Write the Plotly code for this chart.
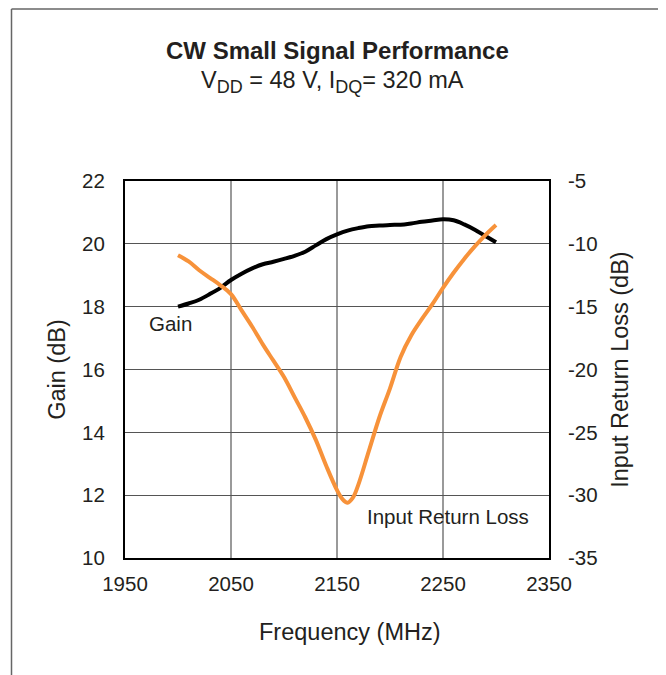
import plotly.graph_objects as go

freq = [2000, 2010, 2020, 2030, 2040, 2050, 2060, 2070, 2080, 2090, 2100,
        2110, 2120, 2130, 2140, 2150, 2160, 2170, 2180, 2190, 2200,
        2210, 2220, 2230, 2240, 2250, 2260, 2270, 2280, 2290, 2300]
gain = [18.0, 18.1, 18.22, 18.4, 18.6, 18.85, 19.05, 19.22, 19.35, 19.43, 19.52,
        19.62, 19.75, 19.95, 20.15, 20.3, 20.42, 20.5, 20.56, 20.58, 20.6,
        20.61, 20.65, 20.7, 20.74, 20.78, 20.75, 20.62, 20.45, 20.25, 20.05]

irl_freq = [2000, 2010, 2020, 2030, 2040, 2050, 2060, 2070, 2080, 2090, 2100,
            2110, 2120, 2130, 2140, 2150, 2155, 2160, 2165, 2170, 2180, 2190, 2200,
            2210, 2220, 2230, 2240, 2250, 2260, 2270, 2280, 2290, 2300]
irl = [-10.9, -11.4, -12.1, -12.7, -13.3, -14.0, -15.3, -16.6, -18.0, -19.3, -20.6,
       -22.2, -23.8, -25.6, -27.7, -29.6, -30.3, -30.6, -30.2, -29.2, -26.5, -23.8, -21.5,
       -19.0, -17.3, -16.0, -14.8, -13.5, -12.3, -11.2, -10.2, -9.3, -8.5]

x_ticks = [1950, 2050, 2150, 2250, 2350]
gain_ticks = [10, 12, 14, 16, 18, 20, 22]
irl_ticks = [-35, -30, -25, -20, -15, -10, -5]

FONT = "Liberation Sans, Arial, sans-serif"
TXT = "#231F20"

# figure is placed 8px into the page by the body margin
W, H = 658, 667
L, R, T, B = 117, 117, 173, 117
PW, PH = W - L - R, H - T - B


def px_x(sx):
    return (sx - 8 - L) / PW


def px_y(sy):
    return (H - B - (sy - 8)) / PH


fig = go.Figure()
fig.add_trace(go.Scatter(x=freq, y=gain, mode="lines", yaxis="y",
                         line=dict(color="black", width=4, shape="spline"),
                         showlegend=False))
fig.add_trace(go.Scatter(x=irl_freq, y=irl, mode="lines", yaxis="y2",
                         line=dict(color="#F7923A", width=4, shape="spline"),
                         showlegend=False))

fig.update_layout(
    width=W, height=H,
    margin=dict(l=L, r=R, t=T, b=B),
    paper_bgcolor="white", plot_bgcolor="white",
    font=dict(family=FONT, color=TXT, size=20),
    xaxis=dict(range=[1950, 2350], tickvals=x_ticks, ticktext=[str(v) for v in x_ticks],
               showgrid=True, gridcolor="#9a9a9a", gridwidth=1.5,
               showline=True, linecolor="black", linewidth=2, mirror=True,
               ticks="", ticklabelstandoff=6, tickfont=dict(size=20.5),
               zeroline=False),
    yaxis=dict(range=[10, 22], tickvals=gain_ticks, ticktext=[str(v) for v in gain_ticks],
               showgrid=True, gridcolor="#555555", gridwidth=1.3,
               showline=True, linecolor="black", linewidth=2, mirror=True,
               ticks="", ticklabelstandoff=14, tickfont=dict(size=20.5),
               title=dict(text="Gain (dB)", font=dict(size=23.5), standoff=10),
               zeroline=False),
    yaxis2=dict(range=[-35, -5], tickvals=irl_ticks, ticktext=[str(v) for v in irl_ticks],
                overlaying="y", side="right",
                showgrid=False, ticks="", ticklabelstandoff=18, tickfont=dict(size=20.5),
                title=dict(text="Input Return Loss (dB)", font=dict(size=23.5), standoff=14),
                zeroline=False, showline=False),
)

fig.add_annotation(text="<b>CW Small Signal Performance</b>", xref="paper", yref="paper",
                   x=0.5, y=px_y(50), showarrow=False, font=dict(size=24, color=TXT),
                   xanchor="center", yanchor="middle")
fig.add_annotation(text="V<sub><span style='font-size:18px'>DD</span></sub> = 48 V, "
                        "I<sub><span style='font-size:18px'>DQ</span></sub>= 320 mA",
                   xref="paper", yref="paper",
                   x=px_x(332), y=px_y(82), showarrow=False, font=dict(size=23.5, color=TXT),
                   xanchor="center", yanchor="middle")
fig.add_annotation(text="Frequency (MHz)", xref="paper", yref="paper",
                   x=px_x(350), y=px_y(632), showarrow=False, font=dict(size=23.5, color=TXT),
                   xanchor="center", yanchor="middle")
fig.add_annotation(text="Gain", x=1993, y=17.45, xref="x", yref="y", showarrow=False,
                   font=dict(size=20.5, color=TXT))
fig.add_annotation(text="Input Return Loss", x=2255, y=11.32, xref="x", yref="y", showarrow=False,
                   font=dict(size=20.5, color=TXT))
fig.add_annotation(text="g012055a-g7", x=2318, y=9.85, xref="x", yref="y", showarrow=False,
                   font=dict(size=4, color="#888888"))

# outer frame (open at bottom)
fx0, fx1 = px_x(11.5), px_x(659)
fy_top, fy_bot = px_y(9), px_y(700)
for x0, y0, x1, y1 in [(fx0, fy_bot, fx0, fy_top), (fx0, fy_top, fx1, fy_top), (fx1, fy_top, fx1, fy_bot)]:
    fig.add_shape(type="line", xref="paper", yref="paper", x0=x0, y0=y0, x1=x1, y1=y1,
                  line=dict(color="#666666", width=1.5))

fig.write_html("out.html")
